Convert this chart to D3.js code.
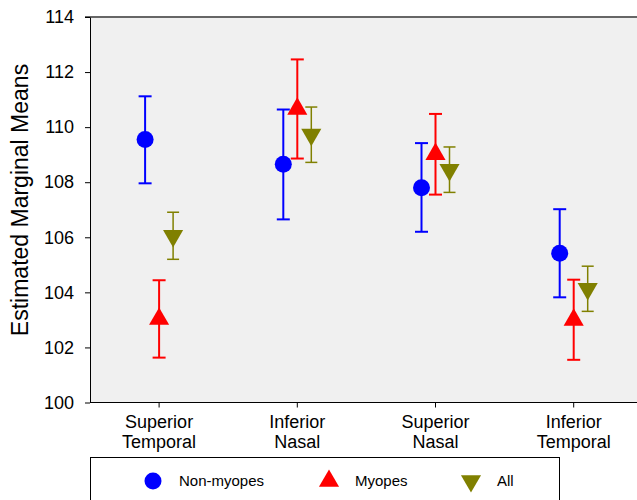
<!DOCTYPE html>
<html>
<head>
<meta charset="utf-8">
<script src="https://cdn.jsdelivr.net/npm/d3@7"></script>
<style>
  body { margin: 0; background: #fff; }
  svg { display: block; font-family: "Liberation Sans", Arial, sans-serif; }
</style>
</head>
<body>
<svg width="637" height="500"></svg>
<script>
// categories and values
var categories = ["Superior Temporal", "Inferior Nasal", "Superior Nasal", "Inferior Temporal"];
var seriesNames = ["Non-myopes", "Myopes", "All"];

var nonMyopesMean = [109.55, 108.65, 107.80, 105.42];
var nonMyopesLow  = [107.96, 106.65, 106.20, 103.82];
var nonMyopesHigh = [111.12, 110.64, 109.42, 107.02];

var myopesMean = [103.03, 110.66, 109.02, 103.00];
var myopesLow  = [101.63, 108.86, 107.55, 101.55];
var myopesHigh = [104.44, 112.46, 110.48, 104.46];

var allMean = [106.05, 109.73, 108.45, 104.13];
var allLow  = [105.20, 108.72, 107.63, 103.31];
var allHigh = [106.91, 110.73, 109.28, 104.95];

var yTicks = [100, 102, 104, 106, 108, 110, 112, 114];

var svg = d3.select("svg"),
  width = +svg.attr("width"),
  height = +svg.attr("height");

var margin = {left: 90, top: 17, bottom: 402.5};

var x = d3.scaleBand()
  .domain(categories)
  .range([margin.left, margin.left + 4 * 138.2]);

var dodge = d3.scalePoint()
  .domain(seriesNames)
  .range([-14, 14]);

var y = d3.scaleLinear()
  .domain([100, 114])
  .range([margin.bottom, margin.top]);

var series = [
  {name: "Non-myopes", color: "#0000ff", mean: nonMyopesMean, low: nonMyopesLow, high: nonMyopesHigh, symbol: d3.symbolCircle, size: 227, rot: 0, sw: 2, cap: 13},
  {name: "Myopes", color: "#ff0000", mean: myopesMean, low: myopesLow, high: myopesHigh, symbol: d3.symbolTriangle, size: 175, rot: 0, sw: 2, cap: 13},
  {name: "All", color: "#808000", mean: allMean, low: allLow, high: allHigh, symbol: d3.symbolTriangle, size: 175, rot: 180, sw: 1.5, cap: 12}
];

// plot background
svg.append("rect")
  .attr("x", margin.left)
  .attr("y", margin.top)
  .attr("width", width - margin.left)
  .attr("height", margin.bottom - margin.top)
  .attr("fill", "#f0f0f0");

// top frame line (gray)
svg.append("line")
  .attr("x1", margin.left - 5).attr("x2", width)
  .attr("y1", y(114)).attr("y2", y(114))
  .attr("stroke", "#666").attr("stroke-width", 2);

// y axis
var yAxis = svg.append("g")
  .attr("transform", "translate(" + margin.left + ",0)")
  .call(d3.axisLeft(y).tickValues(yTicks).tickSize(5).tickPadding(11).tickSizeOuter(0));
yAxis.selectAll("text").attr("font-size", 18).attr("fill", "#000").attr("font-family", "Liberation Sans, Arial, sans-serif");
yAxis.selectAll("line,path").attr("stroke", "#000");

// x axis
var xAxis = svg.append("g")
  .attr("transform", "translate(0," + margin.bottom + ")")
  .call(d3.axisBottom(x).tickSize(5).tickSizeOuter(0).tickFormat(""));
xAxis.select("path").attr("d", "M" + margin.left + ",0H" + width).attr("stroke", "#000");
xAxis.selectAll("line").attr("stroke", "#000");

xAxis.selectAll(".tick").append("text")
  .attr("fill", "#000")
  .attr("font-size", 18)
  .attr("text-anchor", "middle")
  .attr("font-family", "Liberation Sans, Arial, sans-serif")
  .selectAll("tspan")
  .data(function(d) { return d.split(" "); })
  .enter().append("tspan")
    .attr("x", 0)
    .attr("y", function(d, i) { return 25 + i * 20; })
    .text(function(d) { return d; });

// y title
svg.append("text")
  .attr("transform", "translate(28,200) rotate(-90)")
  .attr("text-anchor", "middle")
  .attr("font-size", 23)
  .text("Estimated Marginal Means");

// error bars and markers
series.forEach(function(s) {
  var g = svg.append("g");
  var cx = function(i) { return x(categories[i]) + x.bandwidth() / 2 + dodge(s.name); };
  var idx = d3.range(categories.length);

  g.selectAll("line.bar").data(idx).enter().append("line")
    .attr("x1", cx).attr("x2", cx)
    .attr("y1", function(i) { return y(s.low[i]); })
    .attr("y2", function(i) { return y(s.high[i]); })
    .attr("stroke", s.color).attr("stroke-width", s.sw);

  ["low", "high"].forEach(function(k) {
    g.selectAll("line.cap" + k).data(idx).enter().append("line")
      .attr("x1", function(i) { return cx(i) - s.cap / 2; })
      .attr("x2", function(i) { return cx(i) + s.cap / 2; })
      .attr("y1", function(i) { return y(s[k][i]); })
      .attr("y2", function(i) { return y(s[k][i]); })
      .attr("stroke", s.color).attr("stroke-width", s.sw);
  });

  g.selectAll("path.mark").data(idx).enter().append("path")
    .attr("d", d3.symbol().type(s.symbol).size(s.size))
    .attr("transform", function(i) { return "translate(" + cx(i) + "," + y(s.mean[i]) + ") rotate(" + s.rot + ")"; })
    .attr("fill", s.color);
});

// legend
var legend = svg.append("g");
legend.append("rect")
  .attr("x", 90.5).attr("y", 457.5)
  .attr("width", 469).attr("height", 60)
  .attr("fill", "#fff").attr("stroke", "#000").attr("stroke-width", 1);

var legendX = d3.scaleOrdinal().domain(seriesNames).range([153, 329, 471]);

series.forEach(function(s) {
  legend.append("path")
    .attr("d", d3.symbol().type(s.symbol).size(s.size))
    .attr("transform", "translate(" + legendX(s.name) + ",481) rotate(" + s.rot + ")")
    .attr("fill", s.color);
  legend.append("text")
    .attr("x", legendX(s.name) + 26)
    .attr("y", 486)
    .attr("font-size", 15)
    .text(s.name);
});
</script>
</body>
</html>
